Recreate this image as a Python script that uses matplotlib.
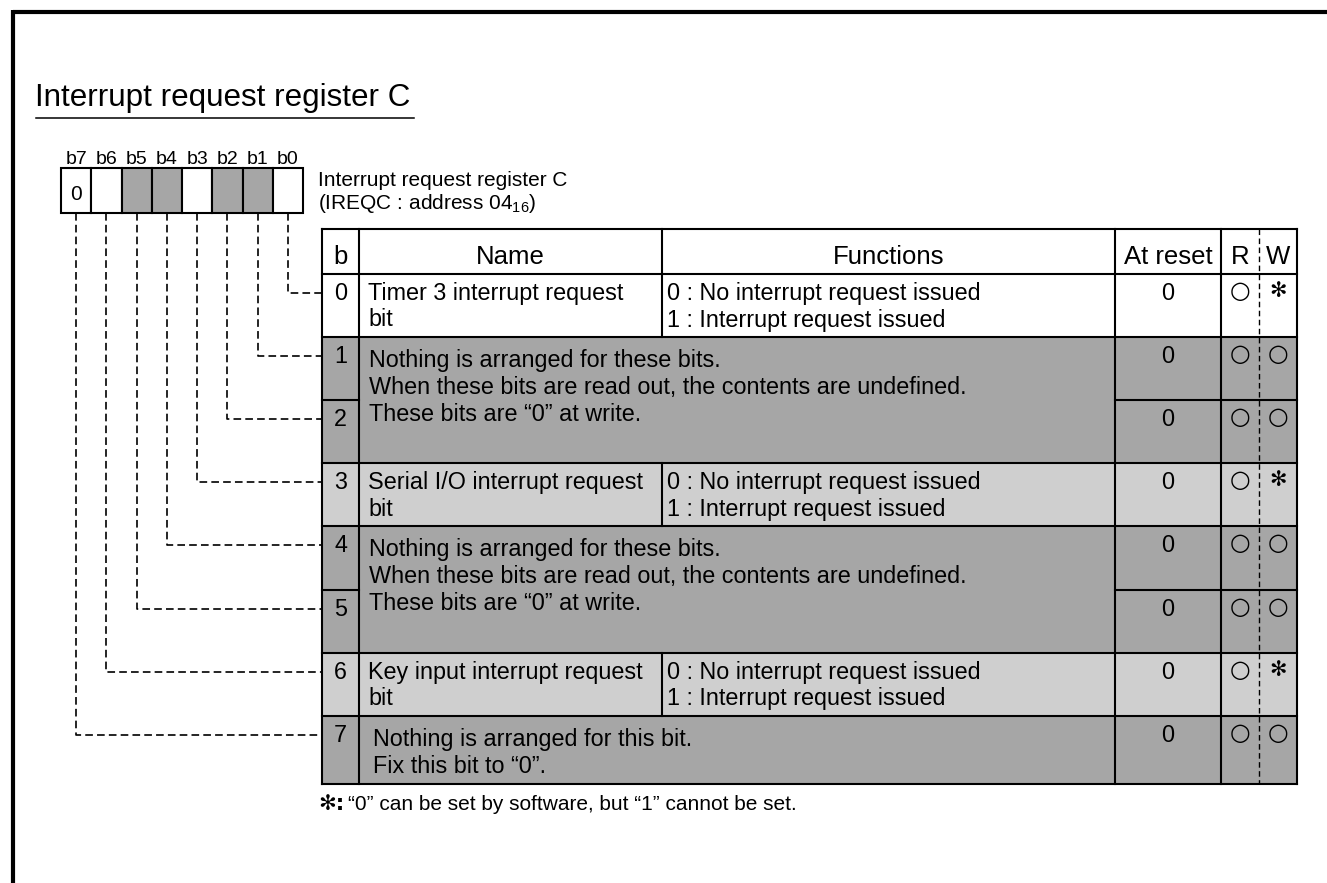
import matplotlib
matplotlib.use('Agg')
import matplotlib.pyplot as plt
from matplotlib.patches import Rectangle

plt.rcParams['font.family'] = ['Liberation Sans', 'DejaVu Sans']
plt.rcParams['mathtext.default'] = 'regular'
plt.rcParams['lines.scale_dashes'] = False

# ---- data ----
title = 'Interrupt request register C'
reg_caption = ['Interrupt request register C', '(IREQC : address 04$_{16}$)']
bit_labels = ['b7', 'b6', 'b5', 'b4', 'b3', 'b2', 'b1', 'b0']
box_values = ['0', '', '', '', '', '', '', '']
reserved_bits = [1, 2, 4, 5]
headers = ['b', 'Name', 'Functions', 'At reset', 'R', 'W']
bits = ['0', '1', '2', '3', '4', '5', '6', '7']
names = ['Timer 3 interrupt request\nbit', None, None,
         'Serial I/O interrupt request\nbit', None, None,
         'Key input interrupt request\nbit', None]
func_irq = '0 : No interrupt request issued\n1 : Interrupt request issued'
functions = [func_irq, None, None, func_irq, None, None, func_irq, None]
text_reserved = ('Nothing is arranged for these bits.\n'
                 'When these bits are read out, the contents are undefined.\n'
                 'These bits are \u201c0\u201d at write.')
text_fixed = 'Nothing is arranged for this bit.\nFix this bit to \u201c0\u201d.'
merged_rows = [(1, 2, text_reserved), (4, 5, text_reserved), (7, 7, text_fixed)]
reset_values = ['0', '0', '0', '0', '0', '0', '0', '0']
read_access = ['\u25cb', '\u25cb', '\u25cb', '\u25cb', '\u25cb', '\u25cb', '\u25cb', '\u25cb']
write_access = ['\u273b', '\u25cb', '\u25cb', '\u273b', '\u25cb', '\u25cb', '\u273b', '\u25cb']
footnote = '\u201c0\u201d can be set by software, but \u201c1\u201d cannot be set.'

# ---- style / layout ----
DARK = '#a6a6a6'
LIGHT = '#cfcfcf'
row_fill = ['white', DARK, DARK, LIGHT, DARK, DARK, LIGHT, DARK]
LW = 1.5
FS = 16.8

def symbol(x, y, s):
    # circle and asterisk marks in the R/W columns
    if s == '\u25cb':
        ax.text(x, y, s, fontsize=17, ha='center', va='center', family=['DejaVu Sans'])
    else:
        ax.text(x, y, s, fontsize=15, ha='center', va='center',
                family=['DejaVu Sans'], fontweight='bold')

fig = plt.figure(figsize=(13.27, 8.83), dpi=100)
ax = fig.add_axes([0, 0, 1, 1])
ax.set_xlim(0, 1327)
ax.set_ylim(883, 0)
ax.axis('off')

# page frame (top + left)
ax.plot([13, 1327], [12, 12], color='black', lw=3, solid_capstyle='butt')
ax.plot([13, 13], [10, 883], color='black', lw=3, solid_capstyle='butt')

# title
ax.text(35, 106, title, fontsize=22.6, ha='left', va='baseline')
ax.plot([36, 414], [118, 118], color='black', lw=1.1)

# register bit boxes
bx0, bw, by0, by1 = 61, 30.25, 168, 213
for i, (lab, val) in enumerate(zip(bit_labels, box_values)):
    bit = 7 - i
    x = bx0 + i * bw
    fc = DARK if bit in reserved_bits else 'white'
    ax.add_patch(Rectangle((x, by0), bw, by1 - by0, fc=fc, ec='black', lw=LW))
    ax.text(x + bw / 2, 164, lab, fontsize=14, ha='center', va='baseline')
    if val:
        ax.text(x + bw / 2, 200, val, fontsize=15, ha='center', va='baseline')

ax.text(318, 186, reg_caption[0], fontsize=15, ha='left', va='baseline')
ax.text(318, 209, reg_caption[1], fontsize=15, ha='left', va='baseline')

# table geometry
xb0, xb1, xname, xfunc, xres, xrw, xend = 322, 359, 662, 1115, 1221, 1259, 1297
y_head = 229
y_top = 274
row_h = [63.1] * 7 + [68]
row_tops = [y_top]
for h in row_h:
    row_tops.append(row_tops[-1] + h)
y_bot = row_tops[-1]

# fills
ax.add_patch(Rectangle((xb0, y_head), xend - xb0, y_top - y_head, fc='white', ec='none'))
for r in range(8):
    ax.add_patch(Rectangle((xb0, row_tops[r]), xend - xb0, row_h[r], fc=row_fill[r], ec='none'))

def hline(x0, x1, y):
    ax.plot([x0, x1], [y, y], color='black', lw=LW, solid_capstyle='projecting')

def vline(x, y0, y1):
    ax.plot([x, x], [y0, y1], color='black', lw=LW, solid_capstyle='projecting')

# grid lines
hline(xb0, xend, y_head)
hline(xb0, xend, y_top)
hline(xb0, xend, y_bot)
for x in (xb0, xb1, xfunc, xres, xend):
    vline(x, y_head, y_bot)
vline(xname, y_head, y_top)
continued = set()
for r0, r1, _ in merged_rows:
    continued.update(range(r0 + 1, r1 + 1))
for r in range(1, 8):
    if r in continued:
        hline(xb0, xb1, row_tops[r])
        hline(xfunc, xend, row_tops[r])
    else:
        hline(xb0, xend, row_tops[r])
for r in range(8):
    if names[r] is not None:
        vline(xname, row_tops[r], row_tops[r + 1])
ax.plot([xrw, xrw], [y_head, y_bot], color='black', lw=1.0, dashes=(4, 2.5))

# headers
hx = [(xb0 + xb1) / 2, (xb1 + xname) / 2, (xname + xfunc) / 2,
      (xfunc + xres) / 2, (xres + xrw) / 2, (xrw + xend) / 2]
for x, h in zip(hx, headers):
    ax.text(x, 264, h, fontsize=18.5, ha='center', va='baseline')

# rows
for r in range(8):
    top = row_tops[r]
    ax.text(hx[0], top + 26, bits[r], fontsize=FS, ha='center', va='baseline')
    ax.text(hx[3], top + 26, reset_values[r], fontsize=FS, ha='center', va='baseline')
    symbol(hx[4], top + 17, read_access[r])
    symbol(hx[5], top + 17, write_access[r])
    if names[r] is not None:
        for k, line in enumerate(names[r].split('\n')):
            ax.text(368, top + 26 + 26.5 * k, line, fontsize=FS, ha='left', va='baseline')
        for k, line in enumerate(functions[r].split('\n')):
            ax.text(667, top + 26 + 26.5 * k, line, fontsize=FS, ha='left', va='baseline')
for r0, r1, txt in merged_rows:
    top = row_tops[r0]
    x0 = 373 if r0 == r1 else 369
    for k, line in enumerate(txt.split('\n')):
        ax.text(x0, top + 30 + 27 * k, line, fontsize=FS, ha='left', va='baseline')

# connector lines from bit boxes to table rows
for i in range(8):
    bit = 7 - i
    x = bx0 + i * bw + bw / 2
    y = row_tops[bit] + 19
    ax.plot([x, x, xb0], [by1, y, y], color='black', lw=1.2, dashes=(5.5, 3))

# footnote
ax.text(318, 810, '\u273b:', fontsize=FS - 1.5, ha='left', va='baseline',
        family=['DejaVu Sans'], fontweight='bold')
ax.text(348, 810, footnote, fontsize=15, ha='left', va='baseline')

fig.savefig('out.png', dpi=100)
